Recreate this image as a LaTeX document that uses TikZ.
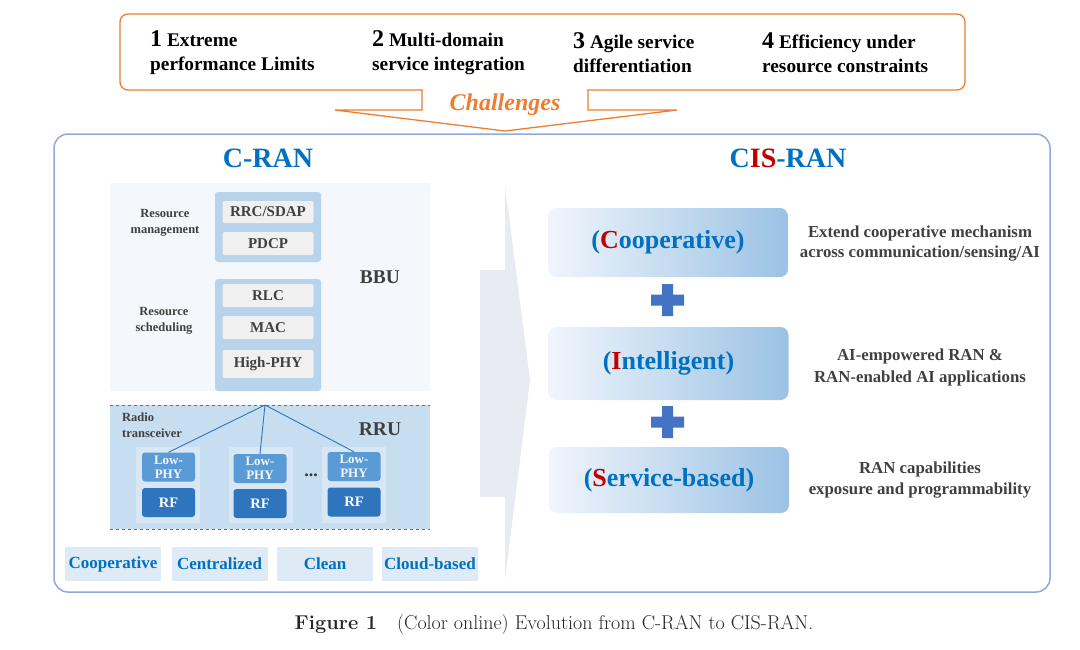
\documentclass[tikz,border=0pt]{standalone}
\usepackage{fontspec}
\newfontfamily\tnr{Liberation Serif}
\newcommand\fsl[2]{\fontsize{#1}{#2}\selectfont}
\definecolor{chalorange}{RGB}{237,125,49}
\definecolor{frameblue}{RGB}{143,170,220}
\definecolor{titleblue}{RGB}{0,112,192}
\definecolor{cisred}{RGB}{192,0,0}
\definecolor{darktext}{RGB}{64,64,64}
\definecolor{bbubg}{RGB}{244,247,252}
\definecolor{rrubg}{RGB}{199,221,240}
\definecolor{unitbg}{RGB}{216,231,245}
\definecolor{colblue}{RGB}{184,212,237}
\definecolor{layergray}{RGB}{240,240,240}
\definecolor{lowblue}{RGB}{91,155,213}
\definecolor{rfblue}{RGB}{46,117,190}
\definecolor{featbg}{RGB}{222,235,247}
\definecolor{gradleft}{RGB}{240,245,252}
\definecolor{gradright}{RGB}{155,194,228}
\definecolor{arrowgray}{RGB}{233,235,243}
\definecolor{plusblue}{RGB}{68,114,196}
\usetikzlibrary{positioning}

\begin{document}
\begin{tikzpicture}[x=1pt,y=-1pt,
	item/.style={anchor=west,align=left,inner sep=0pt,font=\tnr\bfseries\fsl{19.3}{24}},
	title/.style={text=titleblue,font=\tnr\bfseries\fsl{28}{30}},
	layer/.style={fill=layergray,rounded corners=2pt,minimum width=91pt,inner sep=0pt,
		text=darktext,font=\tnr\bfseries\fsl{15}{17}},
	lowphy/.style={fill=lowblue,rounded corners=3pt,minimum width=53pt,minimum height=29pt,
		inner sep=0pt,align=center,text=white!92!lowblue,font=\tnr\bfseries\fsl{13}{14}},
	rf/.style={fill=rfblue,rounded corners=3pt,minimum width=53pt,minimum height=29pt,
		inner sep=0pt,text=white,font=\tnr\bfseries\fsl{14.5}{16}},
	feat/.style={fill=featbg,minimum width=96pt,minimum height=34pt,inner sep=0pt,
		text=titleblue,font=\tnr\bfseries\fsl{17}{19}},
	cis/.style={left color=gradleft,right color=gradright,rounded corners=8pt,
		minimum width=240pt,inner sep=0pt,text=titleblue,font=\tnr\bfseries\fsl{26}{28}},
	desc/.style={align=center,text=darktext,inner sep=0pt},
	side/.style={align=center,text=darktext,inner sep=0pt,font=\tnr\bfseries\fsl{12.5}{16}},
	big/.style={text=darktext,inner sep=0pt,font=\tnr\bfseries\fsl{19.5}{21}}]

\useasboundingbox (0,0) rectangle (1080,649);

\draw[chalorange,line width=1.3pt,rounded corners=8pt] (120,14) rectangle (965,90);
\fill[white] (422.7,88.5) rectangle (587.3,91.5);
\draw[chalorange,line width=1.3pt,line join=miter] (422,90) -- (422,110) -- (335,110) -- (505,131) -- (677,110) -- (588,110) -- (588,90);
\node[text=chalorange,inner sep=0pt,font=\tnr\bfseries\itshape\fsl{24}{26}] (chal) at (505,105) {Challenges};

\node[item] (c1) at (150,53) {{\fsl{24}{24}1} Extreme\\performance Limits};
\node[item] (c2) at (372,53) {{\fsl{24}{24}2} Multi-domain\\service integration};
\node[item] (c3) at (573,53) {{\fsl{24}{24}3} Agile service\\differentiation};
\node[item] (c4) at (762,53) {{\fsl{24}{24}4} Efficiency under\\resource constraints};

\draw[frameblue,line width=1.5pt,rounded corners=14pt] (54,134) rectangle (1050,592);

\node[title] (cran) at (268,158) {C-RAN};
\node[title] (cisran) at (788,158) {C\textcolor{cisred}{IS}-RAN};

\fill[bbubg] (110,183) rectangle (430,391);
\fill[rrubg] (110,405) rectangle (430,529);
\draw[darktext!70!rrubg,dashed,line width=0.9pt] (110,405) -- (430,405) (110,529) -- (430,529);

\fill[colblue,rounded corners=3pt] (215,192) rectangle (321,262);
\fill[colblue,rounded corners=3pt] (215,279) rectangle (321,391);
\node[layer,minimum height=22pt] (rrc) at (268,212) {RRC/SDAP};
\node[layer,minimum height=23pt] (pdcp) at (268,243.5) {PDCP};
\node[layer,minimum height=23pt] (rlc) at (268,295.5) {RLC};
\node[layer,minimum height=23pt] (mac) at (268,327.5) {MAC};
\node[layer,minimum height=28pt] (hphy) at (268,364) {High-PHY};

\node[side] (rmgmt) at (165,223) {Resource\\management};
\node[side] (rsched) at (164,321) {Resource\\scheduling};
\node[big] (bbu) at (380,277) {BBU};
\node[big] (rru) at (380,429) {RRU};
\node[side,align=left,anchor=west] (radio) at (122,425) {Radio\\transceiver};

\fill[unitbg] (136,447) rectangle (200,523);
\fill[unitbg] (229,447) rectangle (293,523);
\fill[unitbg] (322,447) rectangle (386,523);
\node[lowphy] (low1) at (168.5,467) {Low-\\PHY};
\node[rf] (rf1) at (168.5,502.5) {RF};
\node[lowphy] (low2) at (260,468.5) {Low-\\PHY};
\node[rf] (rf2) at (260,503.5) {RF};
\node[lowphy] (low3) at (354,466.5) {Low-\\PHY};
\node[rf] (rf3) at (354,502) {RF};
\node[text=darktext!80!black,inner sep=0pt,font=\tnr\bfseries\fsl{18}{18}] (dots) at (311,475) {...};

\coordinate (fan) at (265,405);
\draw[rfblue,line width=0.9pt] (fan) -- (low1.north) (fan) -- (low2.north) (fan) -- (low3.north);

\node[feat] (fcoop) at (113,564) {Cooperative};
\node[feat] (fcent) at (219.5,564) {Centralized};
\node[feat] (fclean) at (325,564) {Clean};
\node[feat] (fcloud) at (430,564) {Cloud-based};

\fill[arrowgray] (505,185) -- (530,380) -- (505,580) -- (505,497) -- (480,497) -- (480,270) -- (505,270) -- cycle;

\node[cis,minimum height=69pt] (coop) at (668,242.5) {(\textcolor{cisred}{C}ooperative)};
\node[cis,minimum height=73pt] (intel) at (668.5,363.5) {(\textcolor{cisred}{I}ntelligent)};
\node[cis,minimum height=66pt] (serv) at (669,480) {(\textcolor{cisred}{S}ervice-based)};

\foreach \y in {300,422}
	\fill[plusblue] (651,\y-5.5) rectangle (684,\y+5.5) (662,\y-16) rectangle (673,\y+16);

\node[desc,font=\tnr\bfseries\fsl{16.8}{20}] (d1) at (920,244) {Extend cooperative mechanism\\across communication/sensing/AI};
\node[desc,font=\tnr\bfseries\fsl{16.8}{22}] (d2) at (920,367) {AI-empowered RAN \&\\RAN-enabled AI applications};
\node[desc,font=\tnr\bfseries\fsl{16.8}{21}] (d3) at (920,480) {RAN capabilities\\exposure and programmability};

\node[inner sep=0pt,text=black!85,font=\fsl{20}{22}] (cap) at (554,624) {\textbf{Figure 1}\quad (Color online) Evolution from C-RAN to CIS-RAN.};

\end{tikzpicture}
\end{document}
